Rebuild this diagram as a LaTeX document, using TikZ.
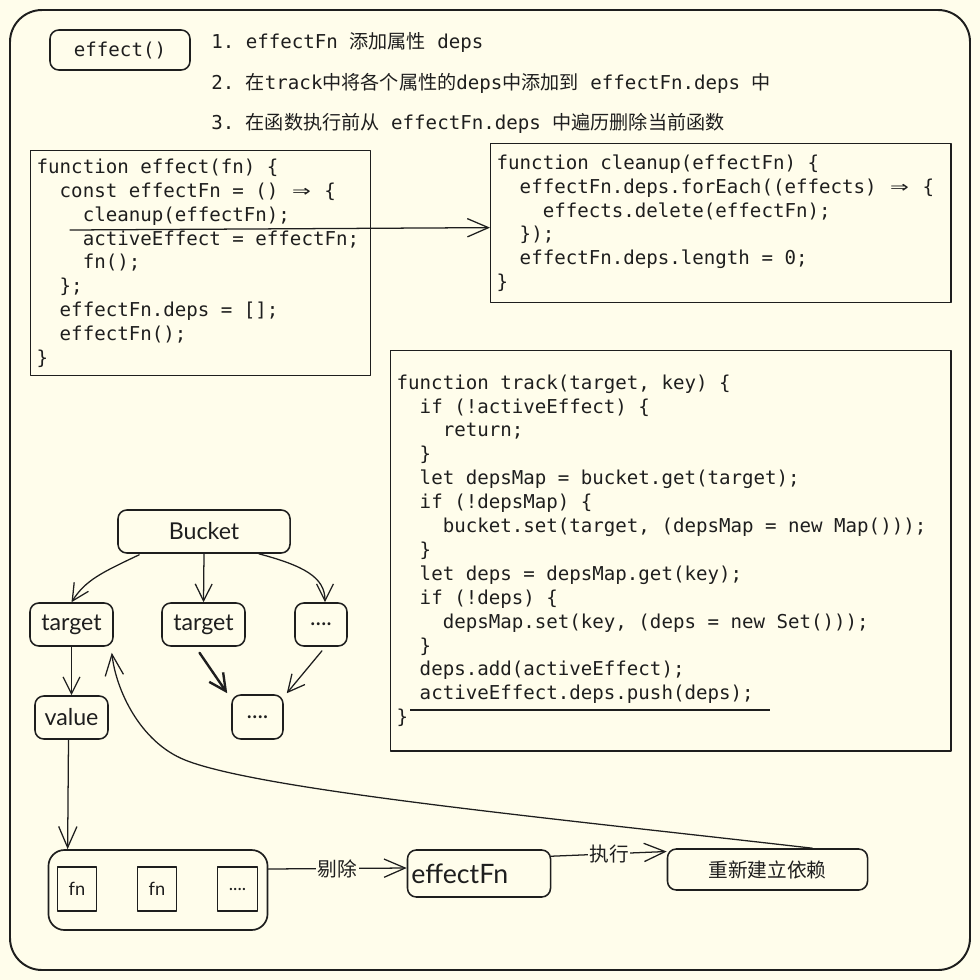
\documentclass[tikz,border=0pt]{standalone}
\usepackage{fontspec}
\setmonofont{DejaVu Sans Mono}[WordSpace={1,0,0}]
\newfontfamily\cjk{Noto Sans CJK SC}
\newfontfamily\hand{Lato}
\usetikzlibrary{arrows.meta, positioning, calc}
\definecolor{ink}{HTML}{1E1E1E}
\definecolor{paper}{HTML}{FFFDEB}
\newcommand{\lvl}{\hphantom{00}}
\newcommand{\imp}{\makebox[1.2em]{\scalebox{1.6}[1.1]{⇒}}}

\begin{document}
\begin{tikzpicture}[
  x=0.025cm, y=-0.025cm,
  color=ink,
  line join=round,
  code/.style={font=\ttfamily\fontsize{13.6}{17}\selectfont},
  codebox/.style={code, draw=ink, line width=1pt, anchor=north west, align=flush left, inner xsep=0.15cm, inner ysep=0pt},
  nodebox/.style={draw=ink, line width=1.1pt, rounded corners=0.22cm, inner sep=0pt, font=\hand\fontsize{16.5}{19}\selectfont},
  cell/.style={draw=ink, line width=1.4pt, inner sep=0pt, minimum width=0.975cm, minimum height=1.1cm, font=\hand\fontsize{13}{15}\selectfont},
  arrow/.style={draw=ink, line width=0.9pt, line cap=round, -{Straight Barb[length=12pt, width=12pt]}},
  bigarrow/.style={arrow, -{Straight Barb[length=15pt, width=13pt]}},
  cjklabel/.style={font=\cjk\fontsize{14}{16}\selectfont, fill=paper, inner sep=1pt}
]

% page and frame
\fill[paper] (0,0) rectangle (980,980);
\draw[line width=1.4pt, rounded corners=0.8cm] (10,10) rectangle (970,970);

% title and notes
\node[draw=ink, line width=1.1pt, rounded corners=0.22cm, code, minimum width=3.5cm, minimum height=1cm] (effectbtn) at (120,50) {effect()};
\node[code, anchor=base west, inner sep=0pt] (noteone) at (211,48) {1. effectFn {\cjk 添加属性} deps};
\node[code, anchor=base west, inner sep=0pt] (notetwo) at (211,89) {2. {\cjk 在}track{\cjk 中将各个属性的}deps{\cjk 中添加到} effectFn.deps {\cjk 中}};
\node[code, anchor=base west, inner sep=0pt] (notethree) at (211,129) {3. {\cjk 在函数执行前从} effectFn.deps {\cjk 中遍历删除当前函数}};

% code boxes
\node[codebox, minimum width=8.5cm, minimum height=5.625cm, text width=8.2cm] (effectcode) at (30,150) {function effect(fn) \{\\
\lvl const effectFn = () \imp\ \{\\
\lvl\lvl cleanup(effectFn);\\
\lvl\lvl activeEffect = effectFn;\\
\lvl\lvl fn();\\
\lvl \};\\
\lvl effectFn.deps = [];\\
\lvl effectFn();\\
\}};

\node[codebox, minimum width=11.5cm, minimum height=3.975cm, text width=11.2cm] (cleanup) at (490,143) {function cleanup(effectFn) \{\\
\lvl effectFn.deps.forEach((effects) \imp\ \{\\
\lvl\lvl effects.delete(effectFn);\\
\lvl \});\\
\lvl effectFn.deps.length = 0;\\
\}};

\node[codebox, minimum width=14cm, minimum height=10cm, text width=13.7cm] (track) at (390,350) {function track(target, key) \{\\
\lvl if (!activeEffect) \{\\
\lvl\lvl return;\\
\lvl \}\\
\lvl let depsMap = bucket.get(target);\\
\lvl if (!depsMap) \{\\
\lvl\lvl bucket.set(target, (depsMap = new Map()));\\
\lvl \}\\
\lvl let deps = depsMap.get(key);\\
\lvl if (!deps) \{\\
\lvl\lvl depsMap.set(key, (deps = new Set()));\\
\lvl \}\\
\lvl deps.add(activeEffect);\\
\lvl activeEffect.deps.push(deps);\\
\}};

\coordinate (cleanstart) at (70,230);
\draw[bigarrow] (cleanstart) -- ([yshift=-0.11cm]cleanup.west);
\coordinate (pushleft) at (410,710);
\coordinate (pushright) at (770,710);
\draw[line width=1pt] (pushleft) -- (pushright);

% bucket tree
\node[nodebox, minimum width=4.3cm, minimum height=1.075cm] (bucket) at (204,531.5) {Bucket};
\node[nodebox, minimum width=2.075cm, minimum height=1.075cm] (targetA) at (71.5,624.5) {target};
\node[nodebox, minimum width=2.075cm, minimum height=1.075cm] (targetB) at (203.5,624.5) {target};
\node[nodebox, minimum width=1.3cm, minimum height=1.075cm] (moreA) at (321,624.5) {....};
\node[nodebox, minimum width=1.825cm, minimum height=1.075cm] (value) at (71.5,717.5) {value};
\node[nodebox, minimum width=1.275cm, minimum height=1.1cm] (moreB) at (257.5,717) {....};

\draw[arrow] ($(bucket.south west)+(22,1)$) .. controls +(-38,18) and +(14,-22) .. (targetA.north);
\draw[arrow] (bucket.south) -- (targetB.north);
\draw[arrow] ($(bucket.south east)+(-32,0)$) .. controls +(45,12) and +(0,-25) .. ($(moreA.north)+(4,0)$);
\draw[arrow] (targetA) -- (value);
\draw[arrow, line width=1.7pt] ($(targetB.south)+(-4,6)$) -- ($(moreB.north west)+(-4,-1)$);
\draw[arrow] ($(moreA.south)+(1,4)$) -- ($(moreB.north east)+(3,-1)$);

% effect functions
\node[draw=ink, line width=1.2pt, rounded corners=0.4cm, minimum width=5.475cm, minimum height=2cm] (fnpool) at (158,890) {};
\node[cell] (fnA) at (77,889) {fn};
\node[cell] (fnB) at (157,889) {fn};
\node[cell, minimum width=1cm] (fnC) at (237.5,889) {....};
\node[nodebox, minimum width=3.575cm, minimum height=1.175cm, text width=3.375cm, align=flush left, inner xsep=0.1cm, font=\hand\fontsize{19}{22}\selectfont] (effectfn) at (479,873.5) {effectFn};
\node[nodebox, minimum width=5cm, minimum height=1.025cm, font=\cjk\fontsize{14}{16}\selectfont] (redo) at (767.5,869.5) {重新建立依赖};

\draw[bigarrow] ($(value.south)+(-3,0)$) -- ($(fnpool.north west)+(20,0)$);
\draw[bigarrow] ($(fnpool.east)+(0,-21)$) -- node[cjklabel] {剔除} ($(effectfn.west)+(0,-5.5)$);
\draw[bigarrow] ($(effectfn.north east)+(0,7)$) -- node[cjklabel] {执行} ($(redo.west)+(0,-18)$);
\coordinate (loopbend) at (185,760);
\draw[bigarrow] ($(redo.north)+(45,0)$) .. controls (550,818) and (260,790) .. (loopbend) .. controls (140,742) and (116,690) .. ($(targetA.south east)+(-2,6)$);
\end{tikzpicture}
\end{document}
